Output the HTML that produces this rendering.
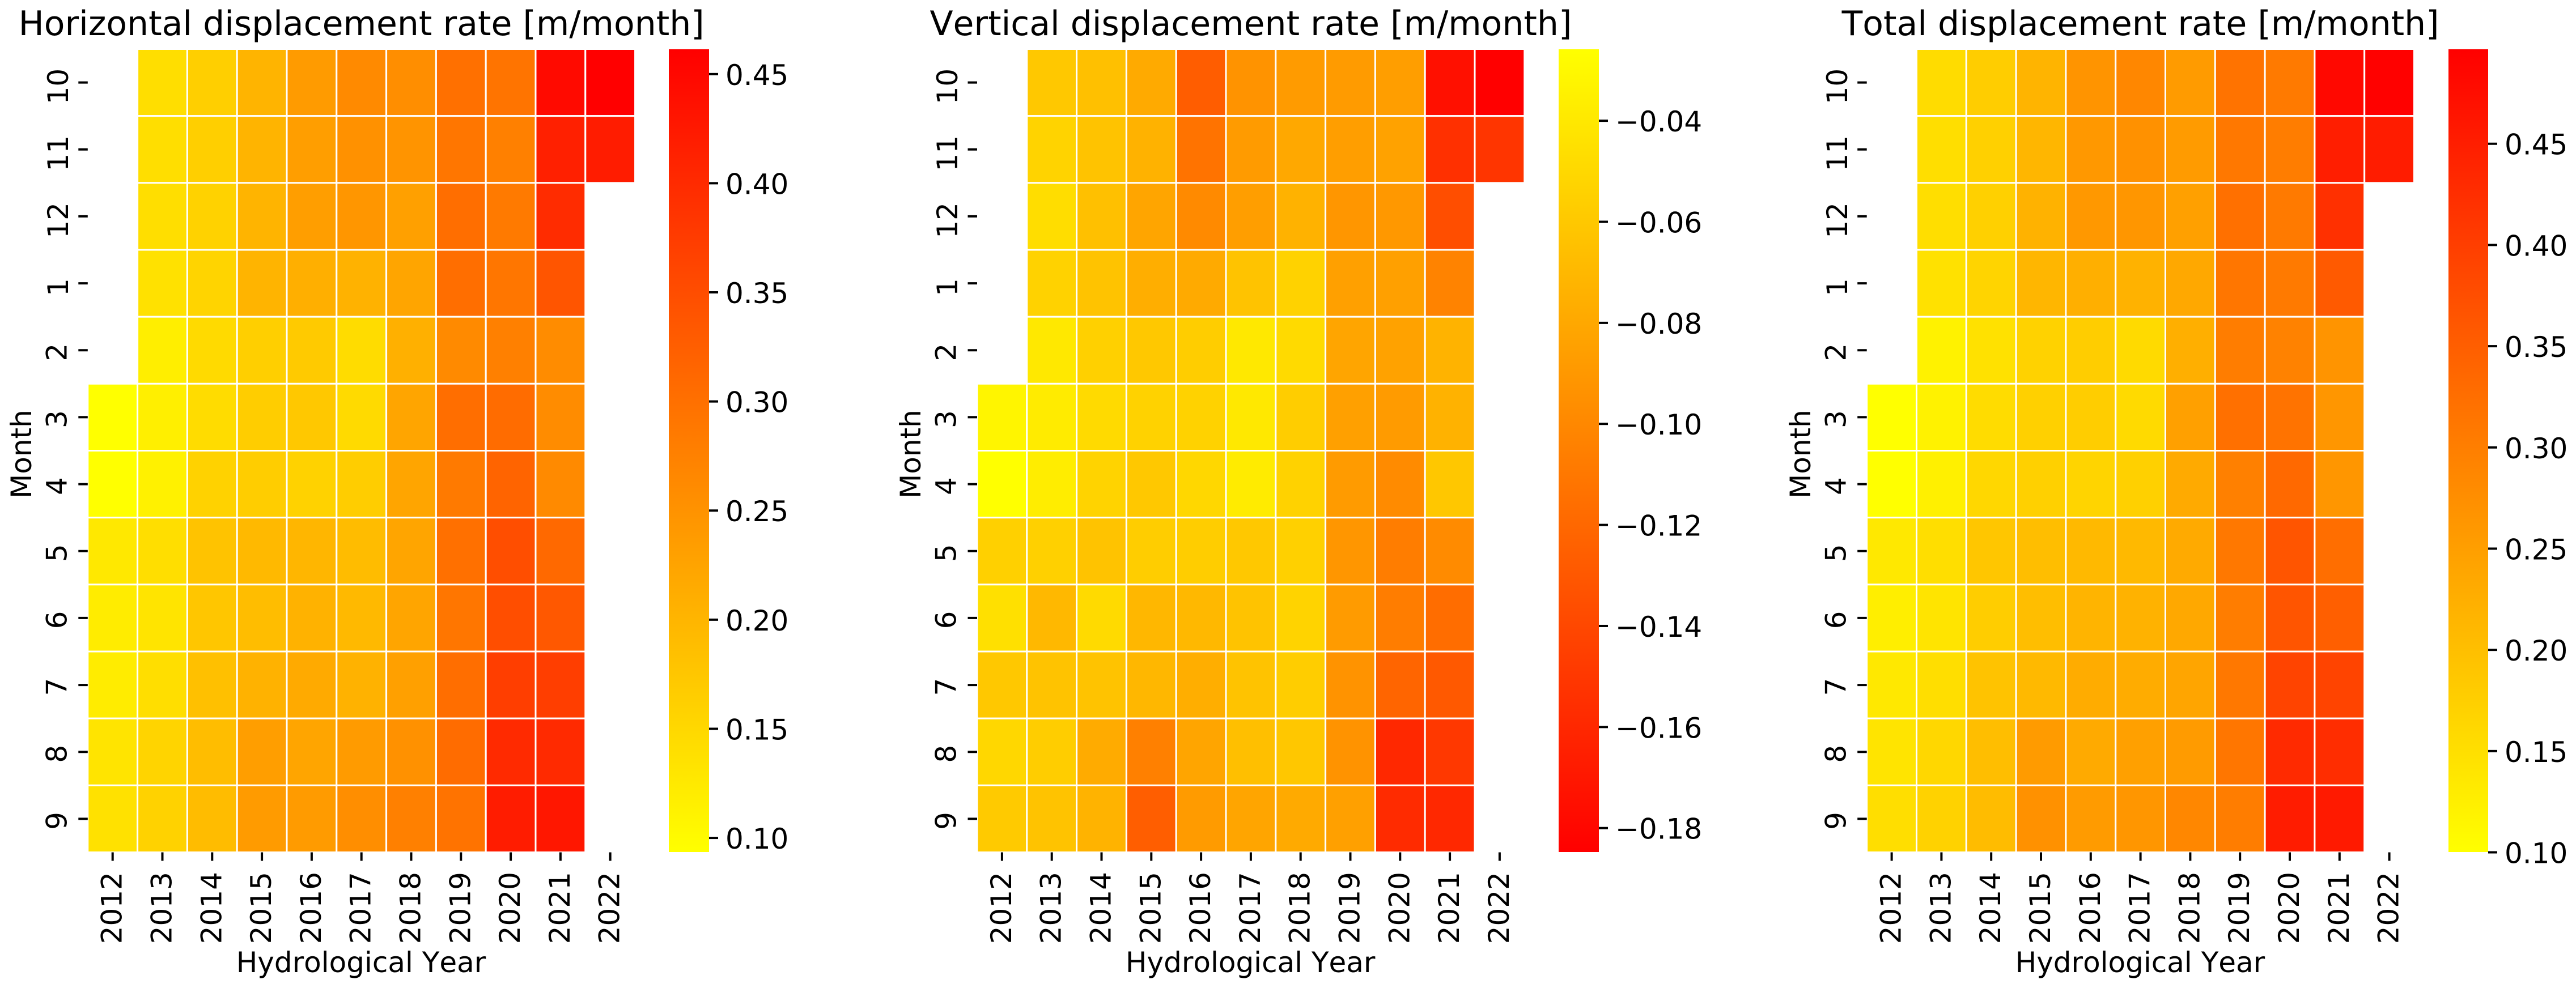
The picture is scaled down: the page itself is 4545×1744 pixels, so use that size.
<!DOCTYPE html>
<html lang="en">
<head>
<meta charset="utf-8">
<title>Displacement rate heatmaps</title>
<style>
html,body{margin:0;padding:0;background:#fff;}
svg{display:block;}
text{font-family:"DejaVu Sans","Liberation Sans",sans-serif;fill:#000;font-kerning:none;}
</style>
</head>
<body>
<svg id="figure" xmlns="http://www.w3.org/2000/svg" width="4545" height="1744" viewBox="0 0 4545 1744">
<rect x="0" y="0" width="4545" height="1744" fill="#ffffff"/>
<defs>
<linearGradient id="grad-red-top" x1="0" y1="0" x2="0" y2="1"><stop offset="0" stop-color="#ff0000"/><stop offset="1" stop-color="#ffff00"/></linearGradient>
<linearGradient id="grad-yellow-top" x1="0" y1="0" x2="0" y2="1"><stop offset="0" stop-color="#ffff00"/><stop offset="1" stop-color="#ff0000"/></linearGradient>
</defs>
</svg>
<script>
const years = ['2012','2013','2014','2015','2016','2017','2018','2019','2020','2021','2022'];
const months = ['10','11','12','1','2','3','4','5','6','7','8','9'];

const horizontalValues = [
[null,.141,.162,.202,.238,.262,.257,.300,.294,.447,.461],
[null,.141,.162,.202,.234,.252,.248,.291,.277,.415,.421],
[null,.141,.159,.202,.234,.245,.231,.303,.285,.398,null],
[null,.136,.156,.202,.209,.205,.224,.303,.291,.339,null],
[null,.118,.147,.163,.170,.144,.208,.262,.277,.259,null],
[.094,.116,.144,.166,.173,.147,.224,.303,.306,.259,null],
[.094,.113,.159,.166,.159,.166,.224,.285,.317,.262,null],
[.127,.141,.180,.195,.199,.190,.224,.300,.349,.310,null],
[.121,.133,.176,.188,.205,.195,.224,.291,.349,.334,null],
[.121,.141,.185,.205,.216,.205,.231,.303,.372,.372,null],
[.133,.156,.188,.234,.224,.238,.252,.306,.401,.401,null],
[.137,.159,.190,.238,.238,.257,.277,.296,.421,.429,null]
];
const verticalValues = [
[null,-.060,-.065,-.079,-.127,-.093,-.088,-.088,-.086,-.175,-.185],
[null,-.053,-.063,-.074,-.113,-.088,-.080,-.086,-.084,-.155,-.152],
[null,-.047,-.065,-.082,-.099,-.086,-.074,-.091,-.090,-.136,null],
[null,-.054,-.063,-.076,-.079,-.063,-.054,-.085,-.085,-.103,null],
[null,-.040,-.055,-.060,-.057,-.040,-.049,-.082,-.084,-.073,null],
[-.032,-.038,-.049,-.054,-.054,-.040,-.057,-.085,-.088,-.074,null],
[-.026,-.037,-.053,-.060,-.051,-.038,-.054,-.088,-.098,-.061,null],
[-.055,-.055,-.063,-.057,-.057,-.060,-.055,-.091,-.107,-.098,null],
[-.045,-.070,-.049,-.071,-.070,-.063,-.053,-.088,-.107,-.117,null],
[-.060,-.063,-.063,-.071,-.076,-.063,-.057,-.093,-.122,-.129,null],
[-.051,-.057,-.078,-.105,-.082,-.066,-.061,-.093,-.160,-.150,null],
[-.059,-.063,-.073,-.126,-.088,-.082,-.079,-.085,-.158,-.160,null]
];
const totalValues = [
[null,.155,.178,.217,.266,.287,.255,.318,.307,.484,.496],
[null,.151,.173,.214,.260,.271,.255,.310,.302,.450,.453],
[null,.151,.173,.220,.260,.263,.248,.322,.307,.422,null],
[null,.147,.167,.214,.224,.220,.235,.313,.307,.356,null],
[null,.120,.147,.170,.178,.158,.224,.302,.294,.266,null],
[.100,.120,.155,.173,.178,.158,.248,.322,.318,.263,null],
[.100,.123,.162,.173,.167,.173,.232,.297,.333,.263,null],
[.136,.151,.189,.201,.209,.209,.232,.310,.364,.325,null],
[.126,.142,.178,.201,.217,.220,.235,.302,.364,.349,null],
[.136,.151,.193,.209,.229,.229,.240,.310,.391,.391,null],
[.142,.162,.201,.255,.232,.248,.255,.313,.431,.426,null],
[.151,.170,.204,.271,.255,.263,.287,.302,.453,.457,null]
];

const horizontalRange = [0.0934, 0.4615];
const verticalRange = [-0.1848, -0.0258];
const totalRange = [0.100, 0.4968];

const horizontalTicks = [0.10,0.15,0.20,0.25,0.30,0.35,0.40,0.45];
const verticalTicks = [-0.18,-0.16,-0.14,-0.12,-0.10,-0.08,-0.06,-0.04];
const totalTicks = [0.10,0.15,0.20,0.25,0.30,0.35,0.40,0.45];

const horizontalTitle = 'Horizontal displacement rate [m/month]';
const verticalTitle = 'Vertical displacement rate [m/month]';
const totalTitle = 'Total displacement rate [m/month]';

const NS = 'http://www.w3.org/2000/svg';
const svg = document.getElementById('figure');

function make(parent, tag, attrs, content) {
  const el = document.createElementNS(NS, tag);
  Object.keys(attrs).forEach(function (k) { el.setAttribute(k, attrs[k]); });
  if (content !== undefined) el.textContent = content;
  parent.appendChild(el);
  return el;
}

function drawPanel(key, title, values, range, ticks, left, barLeft, barWidth, redAtTop) {
  const top = 86.5, bottom = 1504.5, width = 965.8;
  const cellW = width / years.length;
  const cellH = (bottom - top) / months.length;
  const vmin = range[0], vmax = range[1];
  const xScale = function (i) { return left + i * cellW; };
  const yScale = function (j) { return top + j * cellH; };
  const barY = function (v) { return top + (vmax - v) / (vmax - vmin) * (bottom - top); };
  const color = function (v) {
    let t = (v - vmin) / (vmax - vmin);
    t = Math.max(0, Math.min(1, t));
    const g = Math.round(255 * (redAtTop ? 1 - t : t));
    return 'rgb(255,' + g + ',0)';
  };

  const group = make(svg, 'g', {});
  
  

  const titleEl = make(group, 'text', {x: left + width / 2, y: 62, 'text-anchor': 'middle', 'font-size': 60}, title);
  
  

  values.forEach(function (row, j) {
    row.forEach(function (v, i) {
      if (v === null) return;
      const cell = make(group, 'rect', {x: xScale(i), y: yScale(j), width: cellW, height: cellH, fill: color(v), stroke: '#ffffff', 'stroke-width': 3});
      
      
    });
  });

  years.forEach(function (yr, i) {
    const cx = xScale(i + 0.5);
    const tick = make(group, 'line', {x1: cx, x2: cx, y1: bottom, y2: bottom + 15, stroke: '#000', 'stroke-width': 4});
    
    
    const label = make(group, 'text', {transform: 'translate(' + (cx + 16) + ',1539) rotate(-90)', 'text-anchor': 'end', 'font-size': 50}, yr);
    
    
  });

  months.forEach(function (mo, j) {
    const cy = yScale(j + 0.5);
    const tick = make(group, 'line', {x1: left - 16.5, x2: left, y1: cy, y2: cy, stroke: '#000', 'stroke-width': 4});
    
    
    const hasOne = mo.indexOf('1') >= 0;
    const lx = left - (hasOne ? 34.8 : 37.3);
    const ly = cy + (hasOne ? 7 : 3.5);
    const label = make(group, 'text', {transform: 'translate(' + lx + ',' + ly + ') rotate(-90)', 'text-anchor': 'middle', 'font-size': 50}, mo);
    
    
  });

  const xTitle = make(group, 'text', {x: left + width / 2 - 0.7, y: 1716, 'text-anchor': 'middle', 'font-size': 50}, 'Hydrological Year');
  
  

  const yTitle = make(group, 'text', {transform: 'translate(' + (left - 99.8) + ',801.5) rotate(-90)', 'text-anchor': 'middle', 'font-size': 50}, 'Month');
  
  

  const bar = make(group, 'rect', {x: barLeft, y: 87, width: barWidth, height: 1417, fill: redAtTop ? 'url(#grad-red-top)' : 'url(#grad-yellow-top)'});
  
  

  ticks.forEach(function (v) {
    const y = barY(v);
    const tick = make(group, 'line', {x1: barLeft + barWidth, x2: barLeft + barWidth + 16, y1: y, y2: y, stroke: '#000', 'stroke-width': 4});
    
    
    const txt = (v < 0 ? '\u2212' : '') + Math.abs(v).toFixed(2);
    const label = make(group, 'text', {x: barLeft + barWidth + 29, y: y + 19, 'font-size': 50}, txt);
    
    
  });
}

drawPanel('horizontal', horizontalTitle, horizontalValues, horizontalRange, horizontalTicks, 154.8, 1180, 71, true);
drawPanel('vertical', verticalTitle, verticalValues, verticalRange, verticalTicks, 1724, 2750, 71, false);
drawPanel('total', totalTitle, totalValues, totalRange, totalTicks, 3293.7, 4320, 70, true);
</script>
</body>
</html>
